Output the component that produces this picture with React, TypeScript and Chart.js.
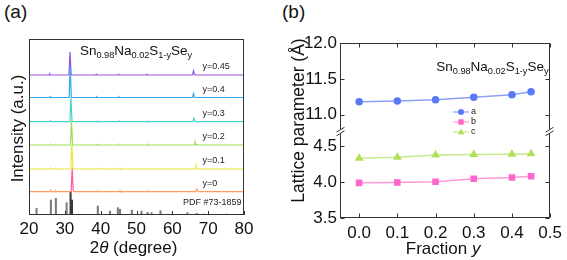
import React, { useEffect, useRef } from "react";
import { Chart, registerables } from "chart.js";
Chart.register(...registerables);

const FONT = "'Liberation Sans', Arial, Helvetica, sans-serif";

// ---------- Panel (a): XRD patterns ----------
const xrdLabels = ["y=0", "y=0.1", "y=0.2", "y=0.3", "y=0.4", "y=0.45"];
const xrdColors = ["#ff9c5e", "#e6e63a", "#9ddf55", "#46d2cf", "#33a8ef", "#9550de"];
const xrdOffsets = [23.3, 46, 70, 93.3, 117.5, 140];

const xrdY0 = [[20, 0], [25.9, 0], [26.1, 1.2], [26.3, 0], [27.3, 0], [27.5, 0.8], [27.7, 0], [31.75, 0], [32.05, 23], [32.35, 0.6], [32.7, 0], [39.0, 0], [39.2, 0.7], [39.4, 0], [45.2, 0], [45.4, 0.9], [45.6, 0], [53.0, 0], [53.2, 0.6], [53.4, 0], [66.5, 0], [66.8, 2.7], [67.1, 0.4], [67.4, 0], [80, 0]];
const xrdY01 = [[20, 0], [25.9, 0], [26.1, 1.0], [26.3, 0], [31.65, 0], [31.95, 24], [32.25, 0.5], [32.6, 0], [39.0, 0], [39.2, 0.7], [39.4, 0], [45.2, 0], [45.4, 0.8], [45.6, 0], [66.35, 0], [66.6, 3.3], [66.9, 0.4], [67.2, 0], [80, 0]];
const xrdY02 = [[20, 0], [25.8, 0], [26.0, 1.0], [26.2, 0], [31.55, 0], [31.85, 25], [32.15, 0.5], [32.5, 0], [38.9, 0], [39.1, 0.7], [39.3, 0], [45.1, 0], [45.3, 0.8], [45.5, 0], [53.0, 0], [53.2, 0.6], [53.4, 0], [66.05, 0], [66.3, 3.3], [66.6, 0.4], [66.9, 0], [80, 0]];
const xrdY03 = [[20, 0], [25.8, 0], [26.0, 1.0], [26.2, 0], [31.4, 0], [31.7, 24], [32.0, 0.5], [32.3, 0], [38.8, 0], [39.0, 0.7], [39.2, 0], [45.0, 0], [45.2, 0.8], [45.4, 0], [52.8, 0], [53.0, 0.6], [53.2, 0], [65.75, 0], [66.0, 3.4], [66.3, 0.4], [66.6, 0], [80, 0]];
const xrdY04 = [[20, 0], [25.7, 0], [25.9, 1.0], [26.1, 0], [31.2, 0], [31.5, 31], [31.8, 0.5], [32.1, 0], [38.7, 0], [38.9, 0.8], [39.1, 0], [44.9, 0], [45.1, 0.8], [45.3, 0], [65.65, 0], [65.9, 4.0], [66.2, 0.4], [66.5, 0], [80, 0]];
const xrdY045 = [[20, 0], [25.6, 0], [25.8, 1.2], [26.0, 0], [31.15, 0], [31.45, 23], [31.75, 0.5], [32.05, 0], [38.6, 0], [38.8, 0.8], [39.0, 0], [44.8, 0], [45.0, 0.8], [45.2, 0], [52.7, 0], [52.9, 0.6], [53.1, 0], [65.65, 0], [65.9, 4.3], [66.2, 0.4], [66.5, 0], [80, 0]];
const xrdSeries = [xrdY0, xrdY01, xrdY02, xrdY03, xrdY04, xrdY045];

const pdfPositions = [22.1, 26.1, 27.5, 30.5, 31.6, 32.0, 39.2, 42.6, 44.8, 45.4, 48.7, 51.4, 53.1, 54.2, 56.7, 59.8, 64.2, 66.8, 68.8, 75.2];
const pdfIntensities = [6.7, 15, 16.7, 12.3, 23.3, 15, 9, 4, 7.3, 5.7, 5, 4, 2.7, 2.3, 4.3, 1, 2.3, 1.7, 1, 1];
const xTicksA = [20, 30, 40, 50, 60, 70, 80];

// ---------- Panel (b): lattice parameters ----------
const fractionY = [0, 0.1, 0.2, 0.3, 0.4, 0.45];
const latticeA = [11.18, 11.19, 11.21, 11.245, 11.28, 11.32];
const latticeB = [3.99, 3.995, 4.005, 4.047, 4.065, 4.083];
const latticeC = [4.333, 4.347, 4.38, 4.385, 4.39, 4.395];
const xTicksB = [0, 0.1, 0.2, 0.3, 0.4, 0.5];
const yTicksTop = [11.0, 11.5, 12.0];
const yTicksBottom = [3.5, 4.0, 4.5];
const seriesNames = ["a", "b", "c"];

const formula = [
  { t: "Sn" }, { t: "0.98", s: true }, { t: "Na" }, { t: "0.02", s: true },
  { t: "S" }, { t: "1-y", s: true }, { t: "Se" }, { t: "y", s: true },
];

type Part = { t: string; s?: boolean; i?: boolean };
function drawRich(ctx: CanvasRenderingContext2D, parts: Part[], x: number, y: number, size: number, align: string) {
  const fontOf = (p: Part) => `${p.i ? "italic " : ""}${p.s ? size * 0.68 : size}px ${FONT}`;
  let total = 0;
  for (const p of parts) { ctx.font = fontOf(p); total += ctx.measureText(p.t).width; }
  let cx = align === "center" ? x - total / 2 : align === "right" ? x - total : x;
  ctx.textAlign = "left";
  ctx.textBaseline = "alphabetic";
  for (const p of parts) {
    ctx.font = fontOf(p);
    ctx.fillText(p.t, cx, p.s ? y + size * 0.28 : y);
    cx += ctx.measureText(p.t).width;
  }
}

const AXIS = "#333333";

const plotA = {
  id: "decorA",
  afterDraw(chart: any) {
    const { ctx, chartArea: ca, scales } = chart;
    const xs = scales.x, ys = scales.y;
    ctx.save();
    ctx.strokeStyle = AXIS;
    ctx.lineWidth = 1;
    ctx.strokeRect(Math.round(ca.left) + 0.5, Math.round(ca.top) + 0.5, Math.round(ca.right - ca.left) - 1, Math.round(ca.bottom - ca.top) - 1);
    ctx.beginPath();
    for (const v of xTicksA) {
      const px = Math.round(xs.getPixelForValue(v)) + 0.5;
      ctx.moveTo(px, ca.bottom);
      ctx.lineTo(px, ca.bottom - 4);
    }
    ctx.stroke();
    ctx.fillStyle = "#222";
    ctx.font = `9px ${FONT}`;
    ctx.textBaseline = "middle";
    ctx.textAlign = "left";
    xrdLabels.forEach((lab, k) => {
      ctx.fillText(lab, xs.getPixelForValue(68.4), ys.getPixelForValue(xrdOffsets[k] + 8));
    });
    ctx.textAlign = "right";
    ctx.fillText("PDF #73-1859", xs.getPixelForValue(79.3), ys.getPixelForValue(12.3));
    ctx.fillStyle = "#111";
    drawRich(ctx, formula, xs.getPixelForValue(34.2), ys.getPixelForValue(160.5), 13.5, "left");
    drawRich(ctx, [{ t: "2" }, { t: "θ", i: true }, { t: " (degree)" }], (ca.left + ca.right) / 2 - 3, 253, 17, "center");
    ctx.save();
    ctx.translate(23.3, 128.5);
    ctx.rotate(-Math.PI / 2);
    drawRich(ctx, [{ t: "Intensity (a.u.)" }], 0, 0, 17, "center");
    ctx.restore();
    ctx.restore();
  },
};

const legendColors = [["#5b79f4", "#8ba0f7"], ["#ff66cc", "#ff9ad9"], ["#b0e05a", "#c6ea8a"]];
const legendShapes = ["circle", "rect", "triangle"];

const plotB = {
  id: "decorB",
  afterDraw(chart: any) {
    const { ctx, chartArea: ca, scales } = chart;
    const xs = scales.x, yt = scales.yTop, yb = scales.yBot;
    ctx.save();
    ctx.strokeStyle = AXIS;
    ctx.lineWidth = 1;
    const L = Math.round(ca.left) + 0.5, R = Math.round(ca.right) - 0.5;
    const T = Math.round(ca.top) + 0.5, B = Math.round(ca.bottom) - 0.5;
    ctx.strokeRect(L, T, R - L, B - T);
    ctx.beginPath();
    for (const v of xTicksB) {
      const px = Math.round(xs.getPixelForValue(v)) + 0.5;
      ctx.moveTo(px, B); ctx.lineTo(px, B - 4);
      ctx.moveTo(px, T); ctx.lineTo(px, T + 4);
    }
    for (const [sc, arr] of [[yt, yTicksTop], [yb, yTicksBottom]] as any) {
      for (const v of arr) {
        const py = Math.round(sc.getPixelForValue(v)) + 0.5;
        ctx.moveTo(L, py); ctx.lineTo(L + 4, py);
        ctx.moveTo(R, py); ctx.lineTo(R - 4, py);
      }
    }
    ctx.stroke();
    // axis break marks
    const by = Math.round(yt.bottom) + 0.5;
    for (const x of [L, R]) {
      ctx.fillStyle = "#ffffff";
      ctx.fillRect(x - 2, by - 2, 4, 4);
      ctx.beginPath();
      for (const k of [-1.8, 1.8]) {
        ctx.moveTo(x - 4, by + k + 2.5);
        ctx.lineTo(x + 4, by + k - 2.5);
      }
      ctx.stroke();
    }
    // legend
    const lx = ca.left + 121, ly = ca.top + 69;
    seriesNames.forEach((n, k) => {
      const y = ly + k * 10;
      ctx.strokeStyle = legendColors[k][1];
      ctx.lineWidth = 1.2;
      ctx.beginPath();
      ctx.moveTo(lx - 8, y); ctx.lineTo(lx + 8, y);
      ctx.stroke();
      ctx.fillStyle = legendColors[k][0];
      ctx.beginPath();
      if (legendShapes[k] === "circle") ctx.arc(lx, y, 3, 0, Math.PI * 2);
      else if (legendShapes[k] === "rect") ctx.rect(lx - 2.7, y - 2.7, 5.4, 5.4);
      else { ctx.moveTo(lx, y - 3.5); ctx.lineTo(lx + 3.3, y + 2.3); ctx.lineTo(lx - 3.3, y + 2.3); ctx.closePath(); }
      ctx.fill();
      ctx.fillStyle = "#222";
      ctx.font = `9px ${FONT}`;
      ctx.textAlign = "left";
      ctx.textBaseline = "middle";
      ctx.fillText(n, lx + 10, y);
    });
    ctx.fillStyle = "#111";
    drawRich(ctx, formula, xs.getPixelForValue(0.2018), yt.getPixelForValue(11.616), 13.5, "left");
    drawRich(ctx, [{ t: "Fraction " }, { t: "y", i: true }], (ca.left + ca.right) / 2 - 2, 254, 17, "center");
    ctx.save();
    ctx.translate(19, 120.5);
    ctx.rotate(-Math.PI / 2);
    drawRich(ctx, [{ t: "Lattice parameter (Å)" }], 0, 0, 17.5, "center");
    ctx.restore();
    ctx.restore();
  },
};

function PanelA() {
  const ref = useRef<HTMLCanvasElement>(null);
  useEffect(() => {
    const datasets: any[] = xrdSeries.map((s, k) => ({
      type: "line",
      data: s.map(([x, y]) => ({ x, y: y + xrdOffsets[k] })),
      borderColor: xrdColors[k],
      borderWidth: 1.2,
      pointRadius: 0,
      tension: 0,
      segment: k === 0 ? {
        borderColor: (c: any) => (c.p0.parsed.x >= 31.7 && c.p1.parsed.x <= 32.4 ? "#ff5aa0" : undefined),
      } : undefined,
    }));
    datasets.push({
      type: "bar",
      data: pdfPositions.map((x, i) => ({ x, y: pdfIntensities[i] })),
      backgroundColor: pdfPositions.map((x) => (x > 31 && x < 32.5 ? "#3a3a3a" : "#7c7c7c")),
      barThickness: 1.4,
      grouped: false,
    });
    const chart = new Chart(ref.current!, {
      type: "line",
      data: { datasets },
      options: {
        animation: false,
        responsive: false,
        layout: { padding: { left: 29, top: 39, right: 41, bottom: 0 } },
        plugins: { legend: { display: false }, tooltip: { enabled: false } },
        scales: {
          x: {
            type: "linear", min: 20, max: 80, offset: false,
            grid: { display: false, drawTicks: false, offset: false },
            border: { display: false },
            afterBuildTicks: (s: any) => { s.ticks = xTicksA.map((v) => ({ value: v })); },
            afterFit: (s: any) => { s.height = 45; },
            ticks: { padding: 4, color: "#111", font: { family: FONT, size: 17 } },
          },
          y: { type: "linear", min: 0, max: 176, display: false },
        },
      },
      plugins: [plotA],
    } as any);
    return () => chart.destroy();
  }, []);
  return <canvas ref={ref} width={285} height={260} style={{ position: "absolute", left: 0, top: 0, width: 285, height: 260 }} />;
}

function PanelB() {
  const ref = useRef<HTMLCanvasElement>(null);
  useEffect(() => {
    const mk = (vals: number[], axis: string, k: number, style: string, r: number) => ({
      data: fractionY.map((x, i) => ({ x, y: vals[i] })),
      yAxisID: axis,
      borderColor: legendColors[k][1],
      backgroundColor: legendColors[k][0],
      pointBorderColor: legendColors[k][0],
      pointStyle: style,
      pointRadius: r,
      borderWidth: 1.5,
      tension: 0,
    });
    const yCommon = {
      type: "linear", position: "left", stack: "ys", stackWeight: 1,
      grid: { display: false, drawTicks: false },
      border: { display: false },
      afterFit: (s: any) => { s.width = 55; },
      ticks: { padding: 3, color: "#111", font: { family: FONT, size: 17 }, callback: (v: any) => Number(v).toFixed(1) },
    };
    const chart = new Chart(ref.current!, {
      type: "line",
      data: {
        datasets: [
          mk(latticeA, "yTop", 0, "circle", 3),
          mk(latticeB, "yBot", 1, "rect", 3.6),
          mk(latticeC, "yBot", 2, "triangle", 3.6),
        ],
      },
      options: {
        animation: false,
        responsive: false,
        layout: { padding: { left: 0, top: 43, right: 14, bottom: 0 } },
        plugins: { legend: { display: false }, tooltip: { enabled: false } },
        scales: {
          x: {
            type: "linear", min: -0.05, max: 0.5,
            grid: { display: false, drawTicks: false },
            border: { display: false },
            afterBuildTicks: (s: any) => { s.ticks = xTicksB.map((v) => ({ value: v })); },
            afterFit: (s: any) => { s.height = 42; },
            ticks: { padding: 5, color: "#111", font: { family: FONT, size: 17 }, callback: (v: any) => Number(v).toFixed(1) },
          },
          yBot: {
            ...yCommon, min: 3.5, max: 4.72,
            afterBuildTicks: (s: any) => { s.ticks = yTicksBottom.map((v) => ({ value: v })); },
          },
          yTop: {
            ...yCommon, min: 10.78, max: 12.0,
            afterBuildTicks: (s: any) => { s.ticks = yTicksTop.map((v) => ({ value: v })); },
          },
        },
      },
      plugins: [plotB],
    } as any);
    return () => chart.destroy();
  }, []);
  return <canvas ref={ref} width={282} height={260} style={{ position: "absolute", left: 285, top: 0, width: 282, height: 260 }} />;
}

export default function App() {
  return (
    <div style={{ position: "fixed", left: 0, top: 0, width: 567, height: 260, background: "#fff", fontFamily: FONT }}>
      <div style={{ position: "absolute", left: 4, top: 1, fontSize: 19, color: "#111" }}>(a)</div>
      <div style={{ position: "absolute", left: 282, top: 1, fontSize: 19, color: "#111" }}>(b)</div>
      <PanelA />
      <PanelB />
    </div>
  );
}
